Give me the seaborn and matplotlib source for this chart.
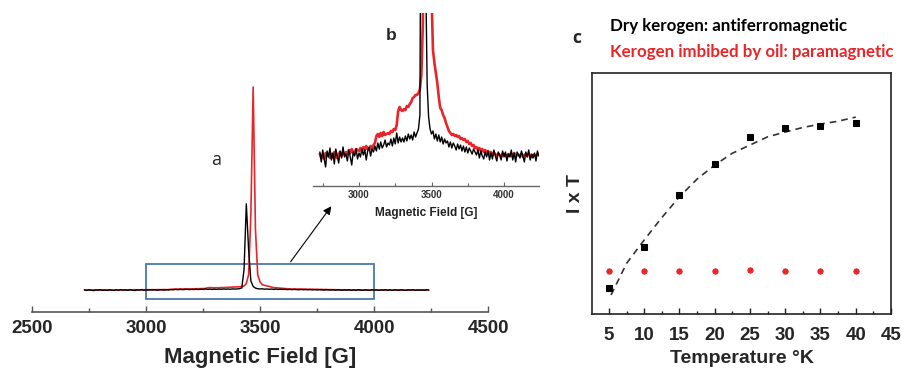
import numpy as np
import seaborn as sns
import matplotlib.pyplot as plt
from matplotlib.patches import Rectangle
from matplotlib.ticker import MultipleLocator

sns.set_style("white")
plt.rcParams['font.family'] = ['Liberation Sans', 'DejaVu Sans']

# EPR spectra, sampled every 10 G starting at 2730 G (arbitrary units)
field_start = 2730
field_step = 10
dry_kerogen = [3, -7, 5, -4, -12, 4, -2, 7,
               -5, 2, -9, 6, -1, -8, 4, -3, 8, -2,
               1, -6, 5, -2, -10, 3, -1, 6, -4, 2,
               -2, 6, 0, 5, -5, 4, 8, -1, 6, 3,
               9, 4, 12, 6, 13, 7, 10, 15, 8, 12,
               10, 16, 9, 17, 11, 22, 12, 18, 13, 17,
               13, 19, 14, 21, 16, 20, 15, 23, 18, 22,
               26, 40, 400, 1700, 800, 180, 70, 38, 26, 21,
               24, 16, 21, 14, 20, 13, 18, 11, 16, 12,
               14, 8, 13, 7, 12, 9, 5, 11, 6, 10,
               4, 9, 3, 8, 2, 7, 4, 1, 6, 3,
               0, 5, -3, 4, -1, -4, 3, -2, 4, -5,
               2, -4, 5, -1, -6, 3, 0, -5, 4, -2,
               3, -6, 1, -2, 5, -5, 2, -7, 3, 0,
               -3, 4, -1, -7, 3, -2, 5, -5, 1, -3,
               2, -6, 4, -1]
oil_kerogen = [1, -3, 0, -4, 2, -1, 1, -3,
               1, -2, 3, 0, -3, 1, 3, -1, 2, 1,
               3, 1, 5, 2, 6, 3, 2, 6, 5, 4,
               7, 4, 8, 5, 9, 6, 5, 9, 6, 10,
               12, 19, 21, 18, 22, 19, 23, 20, 21, 22,
               21, 24, 23, 26, 25, 30, 44, 48, 45, 44,
               46, 45, 49, 48, 51, 53, 57, 58, 60, 60,
               62, 66, 80, 130, 300, 1500, 4000, 1200, 300, 160,
               105, 92, 82, 72, 58, 47, 45, 40, 37, 32,
               28, 24, 22, 20, 21, 19, 20, 18, 19, 16,
               17, 15, 16, 13, 14, 11, 12, 9, 10, 7,
               8, 5, 7, 4, 6, 3, 5, 2, 4, 1,
               3, 0, 2, 1, -1, 1, 0, -2, 1, 1,
               0, -2, 1, 0, -1, 0, 2, -1, 0, 0,
               0, 1, -2, 0, 1, -1, 1, 0, -2, 0,
               0, -1, 1, 0]

# I x T vs temperature
temps = [5, 10, 15, 20, 25, 30, 35, 40]
ixt_dry = [0.108, 0.278, 0.494, 0.622, 0.734, 0.772, 0.780, 0.793]
ixt_oil = [0.178, 0.178, 0.178, 0.178, 0.183, 0.178, 0.178, 0.178]
fit_t = [5.3, 7.5, 10, 12.5, 15, 17.5, 20, 22.5, 25, 27.5, 30, 32.5, 35, 37.5, 40]
fit_ixt = [0.079, 0.21, 0.307, 0.40, 0.486, 0.56, 0.618, 0.667, 0.701, 0.735,
           0.755, 0.774, 0.788, 0.80, 0.817]

RED = '#e8262a'
W, H = 902, 368

def rect(x0, y0, x1, y1):
    # pixel box (top-left origin) -> figure fraction
    return [x0 / W, (H - y1) / H, (x1 - x0) / W, (y1 - y0) / H]

field = field_start + field_step * np.arange(len(dry_kerogen))

fig = plt.figure(figsize=(9.02, 3.68), dpi=100)

# --- panel a: full spectrum ---
ax_a = fig.add_axes(rect(32, 80, 488, 312))
ax_a.patch.set_alpha(0)
sns.lineplot(x=field, y=oil_kerogen, ax=ax_a, color=RED, lw=1.2, sort=False, estimator=None)
sns.lineplot(x=field, y=dry_kerogen, ax=ax_a, color='black', lw=1.0, sort=False, estimator=None)
ax_a.set_xlim(2500, 4500)
ax_a.set_ylim(-433, 4138)
for s in ['left', 'top', 'right']:
    ax_a.spines[s].set_visible(False)
ax_a.spines['bottom'].set_color('#555555')
ax_a.spines['bottom'].set_linewidth(1.2)
ax_a.set_yticks([])
ax_a.xaxis.set_major_locator(MultipleLocator(500))
ax_a.xaxis.set_minor_locator(MultipleLocator(250))
ax_a.tick_params(axis='x', which='both', direction='in', bottom=True, color='#555555', width=1)
ax_a.tick_params(axis='x', which='major', length=4, labelsize=13.5, pad=6)
ax_a.tick_params(axis='x', which='minor', length=3)
for lab in ax_a.get_xticklabels():
    lab.set_fontweight('bold')
ax_a.set_xlabel('Magnetic Field [G]', fontsize=16, fontweight='bold', labelpad=7)
ax_a.add_patch(Rectangle((3000, -177), 1000, 689, fill=False, ec='#4a78ad', lw=1.3))
ax_a.annotate('', xy=(3820, 1695), xytext=(3627, 512),
              arrowprops=dict(arrowstyle='-|>', color='black', lw=0.8, mutation_scale=12))

# --- panel b: zoomed inset ---
ax_b = fig.add_axes(rect(313, 13, 539, 186))
ax_b.set_facecolor('white')
sns.lineplot(x=field, y=oil_kerogen, ax=ax_b, color=RED, lw=1.9, sort=False, estimator=None)
sns.lineplot(x=field, y=dry_kerogen, ax=ax_b, color='black', lw=1.0, sort=False, estimator=None)
ax_b.set_xlim(2683, 4241)
ax_b.set_ylim(-31, 142)
for s in ['left', 'top', 'right']:
    ax_b.spines[s].set_visible(False)
ax_b.spines['bottom'].set_color('#666666')
ax_b.spines['bottom'].set_linewidth(1)
ax_b.set_yticks([])
ax_b.set_xticks([3000, 3500, 4000])
ax_b.xaxis.set_minor_locator(MultipleLocator(250))
ax_b.tick_params(axis='x', which='both', direction='in', bottom=True, color='#666666', width=0.8)
ax_b.tick_params(axis='x', which='major', length=3, labelsize=7, pad=3, labelcolor='#333333')
ax_b.tick_params(axis='x', which='minor', length=2)
for lab in ax_b.get_xticklabels():
    lab.set_fontweight('bold')
ax_b.set_xlabel('Magnetic Field [G]', fontsize=8.5, fontweight='bold', labelpad=5, color='#222222')

# --- panel c: I x T ---
ax_c = fig.add_axes(rect(592, 73, 891, 314))
sns.lineplot(x=fit_t, y=fit_ixt, ax=ax_c, color='#333333', lw=1.2, sort=False,
             estimator=None, dashes=False, linestyle=(0, (4, 3)))
sns.lineplot(x=temps, y=ixt_dry, ax=ax_c, color='black', lw=0, marker='s', ms=4.3,
             mec='black', estimator=None)
sns.lineplot(x=temps, y=ixt_oil, ax=ax_c, color=RED, lw=0, marker='o', ms=3.8,
             mec=RED, estimator=None)
ax_c.set_xlim(2.6, 45)
ax_c.set_ylim(0, 1)
for s in ax_c.spines.values():
    s.set_color('#222222')
    s.set_linewidth(1.2)
ax_c.set_yticks([])
ax_c.set_xticks(range(5, 46, 5))
ax_c.xaxis.set_minor_locator(MultipleLocator(2.5))
ax_c.tick_params(axis='x', which='both', direction='in', bottom=True, color='#222222', width=1)
ax_c.tick_params(axis='x', which='major', length=4, labelsize=13.5, pad=9)
ax_c.tick_params(axis='x', which='minor', length=2.5)
for lab in ax_c.get_xticklabels():
    lab.set_fontweight('bold')
ax_c.set_xlabel('Temperature °K', fontsize=14, fontweight='bold', labelpad=5)
ax_c.set_ylabel('I x T', fontsize=14, fontweight='bold', labelpad=6)

# panel letters and notes
fig.text(216 / W, 1 - 160 / H, 'a', family='Open Sans', fontsize=13, ha='center', va='center')
fig.text(391 / W, 1 - 35 / H, 'b', fontsize=12.5, fontweight='bold', ha='center', va='center')
fig.text(577 / W, 1 - 38 / H, 'c', family='Open Sans', fontsize=12.5, fontweight='bold',
         ha='center', va='center')
fig.text(610 / W, 1 - 26 / H, 'Dry kerogen: antiferromagnetic', family='Lato',
         fontsize=12.2, fontweight='bold', color='black', ha='left', va='center')
fig.text(610 / W, 1 - 52 / H, 'Kerogen imbibed by oil: paramagnetic', family='Lato',
         fontsize=12.2, fontweight='bold', color=RED, ha='left', va='center')

fig.savefig('out.png', dpi=100)
